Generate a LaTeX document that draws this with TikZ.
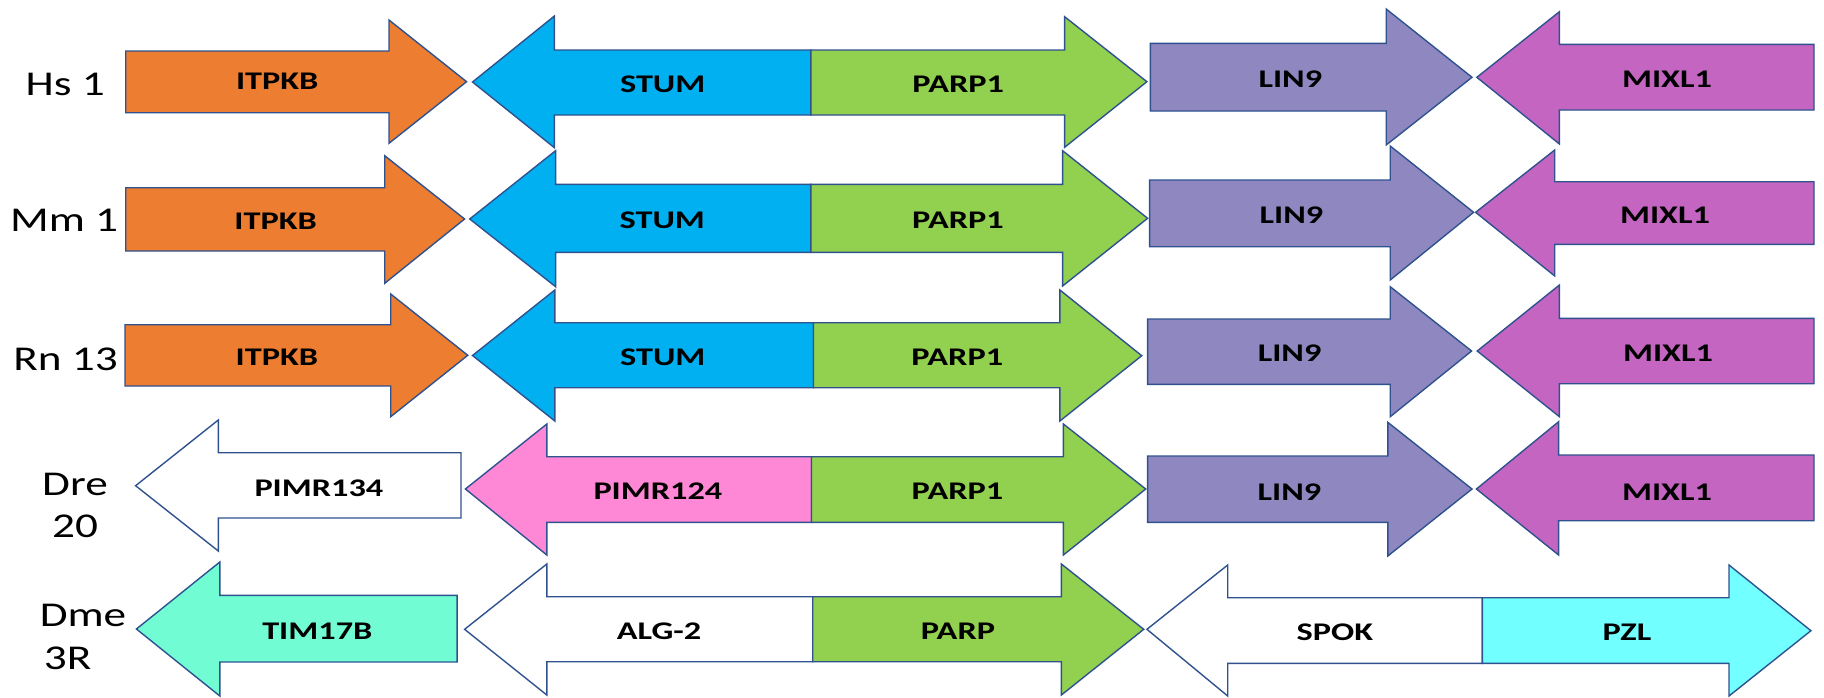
\documentclass[tikz,border=0pt]{standalone}
\usepackage{fontspec}
\setmainfont{Carlito}
\newfontfamily\genef[FakeStretch=1.35]{Carlito}
\newfontfamily\rowf[FakeStretch=1.3]{Carlito}
\definecolor{outl}{HTML}{2F528F}
\definecolor{corange}{HTML}{ED7D31}
\definecolor{cblue}{HTML}{00B0F0}
\definecolor{cgreen}{HTML}{92D050}
\definecolor{cpurple}{HTML}{8E87C0}
\definecolor{cmagenta}{HTML}{C365C1}
\definecolor{cpink}{HTML}{FF88D6}
\definecolor{cmint}{HTML}{72FCD4}
\definecolor{ccyan}{HTML}{72FFFF}
% polygon: fill, shaft end x, head base x, tip x, shaft top y, shaft bottom y, head top y, head bottom y, tip y
\newcommand{\genearrow}[9]{%
  \draw[genebody,fill=#1] (#2,#5) -- (#3,#5) -- (#3,#7) -- (#4,#9) -- (#3,#8) -- (#3,#6) -- (#2,#6) -- cycle;}
\begin{document}
\begin{tikzpicture}[x=0.5pt,y=-0.5pt,
  genebody/.style={draw=outl,line width=0.7pt,line join=miter},
  genelab/.style={anchor=base,inner sep=0pt,font=\genef\bfseries\fontsize{12.7}{14}\selectfont},
  rowlab/.style={anchor=base,inner sep=0pt,font=\rowf\fontsize{17.4}{20}\selectfont}]
\useasboundingbox (0,0) rectangle (1824,697);
% Row 1
\genearrow{corange}{125.7}{389}{466.6}{51}{112.7}{20}{143.3}{81.7}
\genearrow{cblue}{810.8}{554.4}{472.5}{50}{115}{16}{147.7}{82}
\genearrow{cgreen}{810.8}{1064.6}{1146.9}{50}{115}{16.7}{147.3}{81.7}
\genearrow{cpurple}{1150.4}{1386.2}{1472}{43.3}{111}{9}{145}{77.3}
\genearrow{cmagenta}{1814}{1559.4}{1476.8}{44.3}{110}{11.7}{144}{77.3}
% Row 2
\genearrow{corange}{125.7}{384.7}{464.6}{187.7}{251}{155.7}{283.3}{219}
\genearrow{cblue}{810.8}{555.6}{469.7}{184.3}{252.3}{150.7}{286.7}{219}
\genearrow{cgreen}{810.8}{1062.6}{1147.6}{184.3}{252.3}{150.7}{286}{218.3}
\genearrow{cpurple}{1149.6}{1390.2}{1473.6}{180}{246.7}{146}{280}{212.3}
\genearrow{cmagenta}{1814}{1554.7}{1475.6}{181.7}{244.3}{150}{276}{212.3}
% Row 3
\genearrow{corange}{125}{390.7}{467.8}{324.7}{386}{294}{416.7}{355.3}
\genearrow{cblue}{813.5}{554.8}{472.5}{322.7}{387.7}{290}{421}{355.5}
\genearrow{cgreen}{813.5}{1059.9}{1141.7}{322.7}{387.7}{290}{421}{355.7}
\genearrow{cpurple}{1147.6}{1390.2}{1471.6}{319}{384.3}{286.7}{416.7}{351}
\genearrow{cmagenta}{1814}{1559.4}{1477.2}{318.3}{383.7}{285}{416.7}{351}
% Row 4
\genearrow{white}{461}{218.3}{135.6}{452.7}{518}{420}{551}{485.7}
\genearrow{cpink}{811.5}{546.8}{465.4}{456.7}{522.3}{424}{555}{489}
\genearrow{cgreen}{811.5}{1063.4}{1145.7}{456.7}{522.3}{424}{555}{489}
\genearrow{cpurple}{1147.6}{1387.8}{1472}{456}{522.3}{422.3}{556}{489}
\genearrow{cmagenta}{1814}{1558.6}{1476.4}{455}{520.7}{421.7}{555}{489}
% Row 5
\genearrow{cmint}{457.1}{219.8}{136.4}{595.3}{662}{562}{696}{629}
\genearrow{white}{812.7}{546.8}{464.6}{596.7}{661.7}{564}{695}{629.3}
\genearrow{cgreen}{812.7}{1061.4}{1143.7}{596.7}{661.7}{564}{695}{629.3}
\genearrow{white}{1482.3}{1227.7}{1146.9}{597.7}{663.3}{565}{696}{629.3}
\genearrow{ccyan}{1482.3}{1729}{1810.9}{597.7}{663.3}{565}{696}{630.7}
% Gene labels
\node[genelab] (g11) at (277.2,89.3) {ITPKB};
\node[genelab] (g12) at (662.7,92.3) {STUM};
\node[genelab] (g13) at (958.2,92.3) {PARP1};
\node[genelab] (g14) at (1290.3,87.3) {LIN9};
\node[genelab] (g15) at (1667,87.3) {MIXL1};
\node[genelab] (g21) at (275.6,229.3) {ITPKB};
\node[genelab] (g22) at (662.3,228.7) {STUM};
\node[genelab] (g23) at (957.9,228.7) {PARP1};
\node[genelab] (g24) at (1291.5,223.3) {LIN9};
\node[genelab] (g25) at (1665,223.3) {MIXL1};
\node[genelab] (g31) at (276.8,365.3) {ITPKB};
\node[genelab] (g32) at (662.8,365.7) {STUM};
\node[genelab] (g33) at (957.3,365.7) {PARP1};
\node[genelab] (g34) at (1289.6,361.7) {LIN9};
\node[genelab] (g35) at (1668,361.7) {MIXL1};
\node[genelab] (g41) at (318.9,496) {PIMR134};
\node[genelab] (g42) at (657.9,499.3) {PIMR124};
\node[genelab] (g43) at (957.5,499.3) {PARP1};
\node[genelab] (g44) at (1289.4,500) {LIN9};
\node[genelab] (g45) at (1667,500) {MIXL1};
\node[genelab] (g51) at (317.3,639) {TIM17B};
\node[genelab] (g52) at (659.1,639.3) {ALG-2};
\node[genelab] (g53) at (957.9,639.3) {PARP};
\node[genelab] (g54) at (1334.9,640.7) {SPOK};
\node[genelab] (g55) at (1627,640.7) {PZL};
% Row labels
\node[rowlab] (r1) at (65.2,95.3) {Hs 1};
\node[rowlab] (r2) at (64.1,231) {Mm 1};
\node[rowlab] (r3) at (65.6,370.7) {Rn 13};
\node[rowlab] (r4a) at (75,495) {Dre};
\node[rowlab] (r4b) at (75,537.7) {20};
\node[rowlab] (r5a) at (83,626) {Dme};
\node[rowlab] (r5b) at (67.7,669) {3R};
\end{tikzpicture}
\end{document}
